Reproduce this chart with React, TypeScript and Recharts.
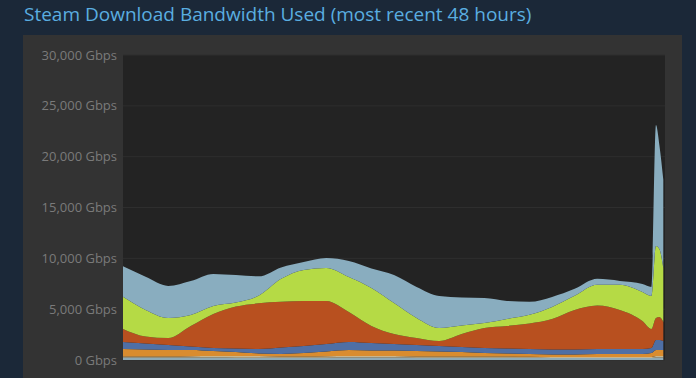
import { Area, AreaChart, CartesianGrid, XAxis, YAxis } from "recharts"

// hours since start of the 48h window
const hours = [0, 2, 4, 6, 8, 10, 12, 14, 16, 18, 20, 22, 24, 26, 28, 30, 32, 34, 36, 38, 40, 42, 44, 46, 46.8, 47.2, 47.5, 47.85]

// Gbps per stacked series, bottom to top
const baseline = [250, 250, 250, 250, 250, 230, 230, 230, 230, 230, 250, 250, 250, 230, 230, 230, 230, 230, 220, 200, 200, 200, 200, 200, 200, 250, 250, 250]
const tan = [100, 100, 100, 120, 150, 170, 170, 120, 120, 140, 150, 150, 150, 120, 120, 120, 120, 120, 100, 100, 100, 100, 100, 100, 100, 150, 150, 150]
const orange = [740, 690, 640, 620, 490, 390, 250, 250, 340, 470, 590, 540, 540, 540, 490, 440, 340, 300, 280, 250, 250, 300, 300, 300, 390, 590, 590, 590]
const blue = [690, 590, 490, 340, 300, 340, 440, 640, 690, 740, 790, 740, 640, 590, 540, 490, 490, 490, 490, 490, 490, 490, 490, 490, 490, 980, 980, 890]
const rust = [1280, 690, 690, 2020, 3340, 4130, 4480, 4480, 4430, 4230, 2950, 1670, 980, 690, 490, 1280, 1970, 2210, 2510, 3000, 3890, 4280, 3840, 2750, 1870, 2160, 2260, 1870]
const lime = [3150, 2610, 1970, 1080, 790, 390, 740, 2260, 3050, 3250, 3440, 3740, 3050, 1970, 1280, 840, 490, 690, 840, 1180, 1380, 2020, 2460, 2850, 3250, 7080, 6690, 5310]
const slate = [3000, 3250, 3150, 3340, 3150, 2700, 1920, 1130, 790, 980, 1570, 1920, 2750, 3050, 3150, 2750, 2460, 1770, 1280, 980, 690, 590, 390, 790, 890, 11900, 10230, 8660]

const yTicks = [0, 5000, 10000, 15000, 20000, 25000, 30000]

const series = [
  { key: "baseline", values: baseline, color: "#8ea9b5" },
  { key: "tan", values: tan, color: "#c8b58e" },
  { key: "orange", values: orange, color: "#d98c2f" },
  { key: "blue", values: blue, color: "#4f6fa5" },
  { key: "rust", values: rust, color: "#b8501f" },
  { key: "lime", values: lime, color: "#b5da45" },
  { key: "slate", values: slate, color: "#89adbf" },
]

const data = hours.map((h, i) => {
  const row: Record<string, number> = { h }
  series.forEach((s) => {
    row[s.key] = s.values[i]
  })
  return row
})

export default function App() {
  return (
    <div
      style={{
        position: "absolute",
        left: 0,
        top: 0,
        width: 696,
        height: 378,
        overflow: "hidden",
        background: "#1b2838",
        fontFamily: "'Open Sans', sans-serif",
      }}
    >
      <div
        style={{
          position: "absolute",
          left: 24,
          top: 1,
          fontSize: 19,
          color: "#5aaee0",
          whiteSpace: "nowrap",
        }}
      >
        Steam Download Bandwidth Used (most recent 48 hours)
      </div>
      <div
        style={{
          position: "absolute",
          left: 23,
          top: 35,
          width: 659,
          height: 343,
          background: "#333333",
        }}
      >
        <AreaChart
          width={659}
          height={343}
          data={data}
          margin={{ top: 20, right: 17, bottom: 18, left: 0 }}
        >
          <CartesianGrid vertical={false} fill="#232323" stroke="#2e2e2e" />
          <XAxis dataKey="h" type="number" domain={[0, 48]} hide />
          <YAxis
            width={100}
            domain={[0, 30000]}
            ticks={yTicks}
            interval={0}
            axisLine={false}
            tickLine={false}
            tickSize={6}
            tickMargin={0}
            tick={{ fill: "#7a7a7a", fontSize: 13 }}
            tickFormatter={(v: number) => `${v.toLocaleString("en-US")} Gbps`}
          />
          {series.map((s) => (
            <Area
              key={s.key}
              dataKey={s.key}
              stackId="bw"
              type="monotone"
              fill={s.color}
              fillOpacity={1}
              stroke="none"
              isAnimationActive={false}
            />
          ))}
        </AreaChart>
      </div>
    </div>
  )
}
